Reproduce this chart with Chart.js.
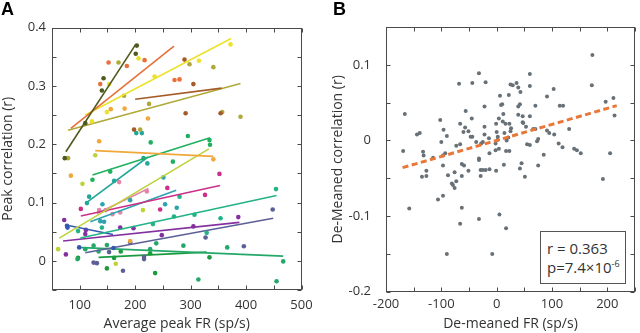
<!DOCTYPE html>
<html>
<head>
<meta charset="utf-8">
<script src="https://cdn.jsdelivr.net/npm/chart.js@4.4.1/dist/chart.umd.min.js"></script>
<style>
  body { margin: 0; background: #fff; width: 640px; height: 333px; overflow: hidden; position: relative; font-family: "Open Sans", sans-serif; color: #333; }
  .panel { position: absolute; top: 0; width: 320px; height: 333px; }
  #wrapA { left: 0; }
  #wrapB { left: 320px; }
  .tag { position: absolute; top: -1px; font: bold 18px "Liberation Sans", Arial, sans-serif; color: #000; z-index: 2; }
  #stats { position: absolute; left: 540px; top: 231px; width: 86px; height: 53px; box-sizing: border-box; border: 1px solid #555; background: #fff; z-index: 2; font-size: 15px; line-height: 19px; padding: 7px 0 0 6px; color: #333; }
  #stats sup { font-size: 9px; vertical-align: 6px; line-height: 0; }
</style>
</head>
<body>
<div class="tag" style="left:1px">A</div>
<div class="tag" style="left:333px">B</div>
<div class="panel" id="wrapA"><canvas id="chartA" width="320" height="333"></canvas></div>
<div class="panel" id="wrapB"><canvas id="chartB" width="320" height="333"></canvas></div>
<div id="stats">r = 0.363<br>p=7.4×10<sup>-6</sup></div>
<script>
// ---- panel A: one colour per neuron group, points + fitted line ----
const groupColors = [
  "#4e5a1e", "#e8703a", "#ece22a", "#a65a28", "#b0a93a", "#f0a83a",
  "#1fb15f", "#bfd23a", "#23a79a", "#cc2f8a", "#2ea3b0", "#e485a8",
  "#22b386", "#3558b0", "#84309e", "#5d5f97", "#24a86a", "#1e9a3e"
];

const groupFR = [
  [73, 110, 140, 143, 201, 203],
  [137, 152, 185, 217, 271, 280],
  [122, 149, 153, 206, 235, 315, 372],
  [198, 289, 305, 291, 354],
  [79, 170, 180, 225, 209, 298, 341, 357, 390],
  [84, 135, 156, 181, 223, 341, 191],
  [123, 155, 228, 268, 295, 334, 335],
  [61, 105, 128, 165, 214],
  [113, 117, 162, 202, 212, 215, 222],
  [102, 245, 258, 326, 352],
  [137, 141, 144, 191, 251, 254, 275],
  [135, 147, 159, 171, 173, 221],
  [97, 140, 232, 270, 280, 307, 329, 354, 454],
  [77, 78, 99, 161],
  [72, 75, 110, 111, 173, 197, 248, 305, 386],
  [125, 131, 153, 178, 191, 216, 216, 327, 396, 448],
  [96, 110, 125, 134, 149, 227, 238, 287, 314, 366, 455, 467],
  [97, 149, 162, 174, 227, 236, 334]
];

const groupCorr = [
  [0.176, 0.236, 0.292, 0.313, 0.355, 0.369],
  [0.303, 0.340, 0.334, 0.344, 0.310, 0.311],
  [0.239, 0.255, 0.303, 0.347, 0.316, 0.343, 0.371],
  [0.225, 0.345, 0.303, 0.253, 0.253],
  [0.176, 0.340, 0.283, 0.269, 0.225, 0.337, 0.332, 0.255, 0.247],
  [0.146, 0.205, 0.260, 0.261, 0.244, 0.174, 0.034],
  [0.139, 0.153, 0.203, 0.170, 0.214, 0.207, 0.199],
  [0.020, 0.132, 0.181, -0.005, 0.087],
  [0.099, 0.110, 0.137, 0.219, 0.219, 0.176, 0.167],
  [0.089, 0.088, 0.125, 0.113, 0.149],
  [0.068, 0.097, 0.067, 0.104, 0.143, 0.097, 0.091],
  [0.087, 0.087, 0.080, 0.135, 0.083, 0.119],
  [0.051, 0.057, 0.063, 0.076, 0.110, 0.079, 0.048, 0.073, 0.123],
  [0.060, 0.057, 0.023, 0.022],
  [0.070, 0.011, 0.046, 0.053, 0.057, 0.056, 0.044, 0.059, 0.075],
  [-0.003, -0.004, 0.015, -0.017, 0.032, 0.003, 0.007, 0.040, 0.025, 0.088],
  [0.003, 0.020, 0.026, 0.016, 0.027, 0.020, 0.030, 0.026, -0.032, 0.023, -0.035, -0.001],
  [0.005, -0.013, 0.005, 0.016, 0.013, -0.021, 0.006]
];

// fitted line ends per group
const fitFR = [
  [75, 201], [84, 270], [110, 373], [200, 356], [79, 390], [128, 341],
  [123, 335], [63, 333], [111, 223], [102, 353], [119, 274], [131, 224],
  [101, 455], [77, 160], [70, 388], [110, 449], [95, 467], [134, 329]
];
const fitCorr = [
  [0.187, 0.371], [0.227, 0.368], [0.250, 0.381], [0.277, 0.296], [0.224, 0.304], [0.189, 0.179],
  [0.147, 0.211], [0.039, 0.192], [0.099, 0.178], [0.077, 0.129], [0.067, 0.121], [0.081, 0.124],
  [0.039, 0.112], [0.061, 0.045], [0.034, 0.066], [0.014, 0.073], [0.023, 0.008], [0.006, 0.015]
];

// ---- panel B: de-meaned values, all neurons pooled ----
const demeanedFR = [
  -166, -169, -144, -139, -133, -132, -102, -96, -90, -100, -115, -93, -97,
  -68, -56, -66, -57, -60, -73, -66, -44, -32, -20, -51, -47, -44, -45, -22,
  -37, -25, -22, -22, -14, -13, -28, -32, -1, 0, 2, 4, 6, 8, 10, 11, 12, 16,
  -2, 2, -2, 4, 14, 18, 17, 22, 23,
  173, 172, 60, 60, 25, 29, 36, 39, 43, 103, 91, 39, 42, 70, 114, 120, 39, 47,
  60, 47, 48, 26, 25, 66, 70, 75, 73, 53, 91, 95, 104, 131, 21, 23, 55, 60,
  85, 112, 119, 140, 145, 152, 197, 211, 213, 205,
  -97, -127, -135, -127, -88, -76, -63, -63, -59, -51, -81, -79, -76, -73,
  -106, -97, -158, -63, -66, -32, 5, 17, -90, -8, -32, -29, -25, -20, -29,
  -13, -1, 13, 45, 42, 51, 75, 192
];
const demeanedCorr = [
  0.035, -0.014, 0.008, 0.010, -0.015, -0.020, 0.027, 0.014, 0.006, -0.002, -0.023, -0.017, -0.020,
  0.075, 0.039, 0.022, 0.017, 0.011, -0.007, -0.005, 0.076, 0.089, 0.077, 0.012, 0.005, 0.005, 0.029, 0.045,
  -0.002, -0.002, 0.018, 0.008, 0.003, -0.017, -0.004, -0.024, 0.022, 0.011, 0.005, 0.029, 0.059, 0.047, 0.048, 0.025, 0.035, 0.022,
  -0.004, 0.001, -0.013, -0.011, 0.010, 0.000, -0.014, 0.060, 0.022,
  0.113, 0.073, 0.088, 0.072, 0.074, 0.073, 0.076, 0.070, 0.064, 0.068, 0.058, 0.045, 0.048, 0.046, 0.046, 0.046, 0.034, 0.032,
  0.032, 0.024, 0.023, 0.016, 0.012, 0.015, 0.015, 0.002, -0.001, 0.018, 0.013, 0.010, 0.008, 0.015, 0.004, -0.014, -0.005, -0.006,
  -0.019, -0.004, -0.009, -0.011, -0.013, -0.017, 0.051, 0.056, 0.033, -0.017,
  -0.033, -0.040, -0.048, -0.047, -0.046, -0.042, -0.047, -0.031, -0.033, -0.040, -0.057, -0.059, -0.063, -0.054,
  -0.078, -0.073, -0.090, -0.089, -0.110, -0.104, -0.098, -0.116, -0.150, -0.150, -0.026, -0.039, -0.039, -0.039, -0.047,
  -0.038, -0.040, -0.032, -0.030, -0.037, -0.048, -0.033, -0.051
];
const trendFR = [-170, 217];
const trendCorr = [-0.036, 0.046];

const FONT = '"Open Sans", sans-serif';
const TXT = "#333";

const tenth = (v) => Math.abs(v * 10 - Math.round(v * 10)) < 1e-6;
const hundred = (v) => Math.abs(v / 100 - Math.round(v / 100)) < 1e-6;

// box around the plot with short inward ticks on every side
const boxTicks = {
  id: "boxTicks",
  afterDraw(chart) {
    const { ctx, chartArea: a, scales: { x, y } } = chart;
    const L = Math.round(a.left) + 0.5, R = Math.round(a.right) - 0.5;
    const T = Math.round(a.top) + 0.5, B = Math.round(a.bottom) - 0.5;
    ctx.save();
    ctx.strokeStyle = "#4a4a4a";
    ctx.lineWidth = 1;
    ctx.strokeRect(L, T, R - L, B - T);
    ctx.beginPath();
    x.ticks.forEach((t) => {
      const p = Math.round(x.getPixelForValue(t.value)) + 0.5;
      ctx.moveTo(p, B); ctx.lineTo(p, B - 4);
      ctx.moveTo(p, T); ctx.lineTo(p, T + 4);
    });
    y.ticks.forEach((t) => {
      const p = Math.round(y.getPixelForValue(t.value)) + 0.5;
      ctx.moveTo(L, p); ctx.lineTo(L + 4, p);
      ctx.moveTo(R, p); ctx.lineTo(R - 4, p);
    });
    ctx.stroke();
    ctx.restore();
  }
};

function axis(min, max, step, labelFn, title, pad, titlePad, fit) {
  return {
    type: "linear", min, max,
    grid: { display: false, drawTicks: false },
    border: { display: false },
    ticks: {
      stepSize: step, autoSkip: false, maxRotation: 0, padding: pad,
      color: TXT, font: { family: FONT, size: 13 },
      callback: labelFn
    },
    title: { display: true, text: title, color: TXT, font: { family: FONT, size: 14 }, padding: titlePad },
    afterFit: fit
  };
}

const baseOpts = {
  responsive: false,
  animation: false,
  plugins: { legend: { display: false }, tooltip: { enabled: false } }
};

// panel A
const datasetsA = [];
groupColors.forEach((c, i) => {
  datasetsA.push({
    data: fitFR[i].map((x, j) => ({ x, y: fitCorr[i][j] })),
    showLine: true, borderColor: c, borderWidth: 1.6, pointRadius: 0
  });
  datasetsA.push({
    data: groupFR[i].map((x, j) => ({ x, y: groupCorr[i][j] })),
    pointBackgroundColor: c, pointBorderWidth: 0, pointRadius: 2.3
  });
});

new Chart(document.getElementById("chartA"), {
  type: "scatter",
  data: { datasets: datasetsA },
  options: {
    ...baseOpts,
    layout: { padding: { left: 0, right: 18.5, top: 27.5, bottom: 0 } },
    scales: {
      x: axis(50, 500, 50, (v) => (hundred(v) ? v : ""), "Average peak FR (sp/s)", 7,
        { top: 0, bottom: 1 }, (s) => { s.height = 43; }),
      y: axis(-0.05, 0.4, 0.05, (v) => (tenth(v) ? String(Math.round(v * 10) / 10) : ""), "Peak correlation (r)", 6,
        { top: 0, bottom: 0 }, (s) => { s.width = 52; })
    }
  },
  plugins: [boxTicks]
});

// panel B
new Chart(document.getElementById("chartB"), {
  type: "scatter",
  data: {
    datasets: [
      {
        data: trendFR.map((x, j) => ({ x, y: trendCorr[j] })),
        showLine: true, borderColor: "#e8773a", borderWidth: 3, borderDash: [6, 3.5], pointRadius: 0
      },
      {
        data: demeanedFR.map((x, j) => ({ x, y: demeanedCorr[j] })),
        pointBackgroundColor: "#687177", pointBorderWidth: 0, pointRadius: 2
      }
    ]
  },
  options: {
    ...baseOpts,
    layout: { padding: { left: 0, right: 2, top: 27, bottom: 0 } },
    scales: {
      x: axis(-200, 250, 50, (v) => (hundred(v) && v < 250 ? v : ""), "De-meaned FR (sp/s)", 5,
        { top: 0, bottom: 1 }, (s) => { s.height = 41.3; }),
      y: axis(-0.2, 0.15, 0.05, (v) => (tenth(v) ? String(Math.round(v * 10) / 10) : ""), "De-Meaned correlation (r)", 15,
        { top: 10, bottom: 0 }, (s) => { s.width = 66; })
    }
  },
  plugins: [boxTicks]
});
</script>
</body>
</html>
